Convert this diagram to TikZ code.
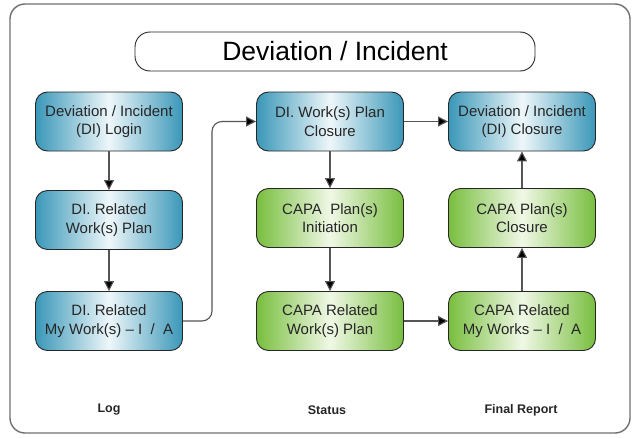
\documentclass[tikz,border=0pt]{standalone}
\usepackage{fontspec}
\setmainfont{Liberation Sans}
\usetikzlibrary{arrows.meta}
\definecolor{blueE}{HTML}{3A97B8}
\definecolor{blueC}{HTML}{EEF7FA}
\definecolor{greenE}{HTML}{78BE3E}
\definecolor{greenC}{HTML}{F0F8E6}
\definecolor{framegray}{HTML}{707070}
\definecolor{linegray}{HTML}{555555}
\tikzset{
  box/.style={draw=black!85, line width=0.9pt, rounded corners=12pt,
    minimum width=147pt, minimum height=59pt, align=center,
    font=\fontsize{15}{18.5}\selectfont, text=black!85, inner sep=0pt},
  bluebox/.style={box, left color=blueE, right color=blueE, middle color=blueC},
  greenbox/.style={box, left color=greenE, right color=greenE, middle color=greenC},
  conn/.style={draw=linegray, line width=1.1pt, -{Triangle[length=10pt,width=10pt,fill=black]}},
  collabel/.style={font=\bfseries\fontsize{12.5}{14}\selectfont, text=black!85},
}
\begin{document}
\begin{tikzpicture}[x=1pt,y=-1pt]
\useasboundingbox (0,0) rectangle (640,439);
\draw[framegray, line width=1.4pt, rounded corners=15pt] (10,4) rectangle (630,433);
\node[draw=black!85, line width=0.9pt, rounded corners=15pt, minimum width=400pt, minimum height=39pt,
  font=\fontsize{26.5}{30}\selectfont, inner sep=0pt] (title) at (335,51.5) {Deviation / Incident};

\node[bluebox] (a1) at (109,121.5) {Deviation / Incident\\(DI) Login};
\node[bluebox] (a2) at (109,220) {DI. Related\\Work(s) Plan};
\node[bluebox] (a3) at (109,321) {DI. Related\\My Work(s) -- I \ / \ A};

\node[bluebox] (b1) at (330,121.5) {DI. Work(s) Plan\\Closure};
\node[greenbox] (b2) at (330,218) {CAPA \ Plan(s)\\Initiation};
\node[greenbox] (b3) at (330,321) {CAPA Related\\Work(s) Plan};

\node[bluebox] (c1) at (522,121.5) {Deviation / Incident\\(DI) Closure};
\node[greenbox] (c2) at (522,218) {CAPA Plan(s)\\Closure};
\node[greenbox] (c3) at (522,321) {CAPA Related\\My Works -- I \ / \ A};

\node[collabel] (l1) at (109,410) {Log};
\node[collabel] (l2) at (327,410) {Status};
\node[collabel] (l3) at (521,410) {Final Report};

\coordinate (k1) at (212,321);
\coordinate (k2) at (212,121.5);

\draw[conn] (a1) -- (a2);
\draw[conn] (a2) -- (a3);
\draw[conn, rounded corners=10pt] (a3.east) -- (k1) -- (k2) -- (b1.west);
\draw[conn] (b1) -- (c1);
\draw[conn] (b1) -- (b2);
\draw[conn] (b2) -- (b3);
\draw[conn] (b3) -- (c3);
\draw[conn] (c3) -- (c2);
\draw[conn] (c2) -- (c1);
\end{tikzpicture}
\end{document}
